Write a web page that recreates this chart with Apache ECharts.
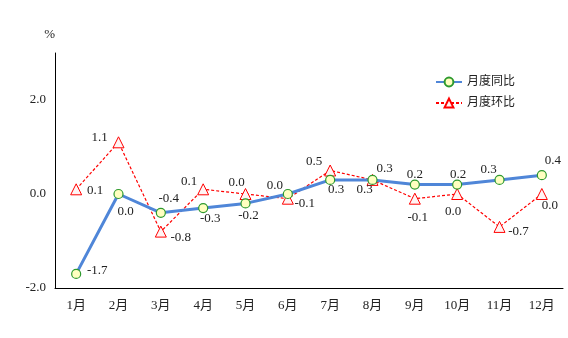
<!DOCTYPE html>
<html><head><meta charset="utf-8">
<script src="https://cdn.jsdelivr.net/npm/echarts@6/dist/echarts.min.js"></script>
<style>html,body{margin:0;padding:0;background:#fff}#c{width:568px;height:338px}</style>
</head><body><div id="c"></div>
<script>
const months = ['1月','2月','3月','4月','5月','6月','7月','8月','9月','10月','11月','12月'];
const yoy = [-1.7, 0.0, -0.4, -0.3, -0.2, 0.0, 0.3, 0.3, 0.2, 0.2, 0.3, 0.4];
const mom = [0.1, 1.1, -0.8, 0.1, 0.0, -0.1, 0.5, 0.3, -0.1, 0.0, -0.7, 0.0];
const seriesNames = ['月度同比', '月度环比'];
const yTickLabels = [-2, 0, 2];

// label offsets (pixels, relative to point)
const yoyOff = [[21,-3],[7,18],[8,-14],[7,10],[3,12],[-13,-8],[6,10],[-8,10],[0,-10],[1,-10],[-11,-10],[11,-15]];
const momOff = [[19,1],[-19,-5],[20,6],[-14,-8],[-9,-11],[17,5],[-16,-9],[12,-11],[3,19],[-4,18],[19,5],[8,12]];

const font = '"Liberation Serif","Noto Sans CJK SC",serif';
function mk(vals, offs) {
  return vals.map((v, i) => ({
    value: v,
    label: { show: true, position: 'inside', offset: offs[i], formatter: () => v.toFixed(1) }
  }));
}
const chart = echarts.init(document.getElementById('c'), null, {renderer: 'canvas'});
chart.setOption({
  animation: false,
  grid: { left: 55, right: 5, top: 53, bottom: 50 },
  legend: {
    orient: 'vertical', left: 430, top: 71, itemWidth: 26, itemHeight: 11, itemGap: 9,
    textStyle: { fontFamily: font, fontSize: 12, color: '#222' },
    data: seriesNames
  },
  xAxis: {
    type: 'category', data: months, boundaryGap: true,
    axisLine: { onZero: false, lineStyle: { color: '#000', width: 1 } },
    axisTick: { inside: true, length: 5, lineStyle: { color: '#000' } },
    axisLabel: { fontFamily: font, fontSize: 13, color: '#222', margin: 11 }
  },
  yAxis: {
    type: 'value', min: -2, max: 3, interval: 1,
    name: '%', nameLocation: 'end', nameGap: 12,
    nameTextStyle: { fontFamily: font, fontSize: 13, color: '#222', align: 'right' },
    axisLine: { show: true, lineStyle: { color: '#000', width: 1 } },
    axisTick: { show: false },
    splitLine: { show: false },
    axisLabel: {
      fontFamily: font, fontSize: 13, color: '#222', margin: 9,
      formatter: v => yTickLabels.includes(v) ? v.toFixed(1) : ''
    }
  },
  series: [
    {
      name: seriesNames[0], type: 'line', data: mk(yoy, yoyOff), z: 3,
      symbol: 'circle', symbolSize: 9,
      lineStyle: { color: '#4f86d8', width: 3 },
      itemStyle: { color: '#ffffc0', borderColor: '#2e9a2e', borderWidth: 1.2 },
      label: { fontFamily: font, fontSize: 13, color: '#222' }
    },
    {
      name: seriesNames[1], type: 'line', data: mk(mom, momOff), z: 2,
      symbol: 'triangle', symbolSize: 11,
      lineStyle: { color: '#ff0000', width: 1.2, type: [3, 2] },
      itemStyle: { color: '#fff4f4', borderColor: '#ff0000', borderWidth: 1 },
      label: { fontFamily: font, fontSize: 13, color: '#222' }
    }
  ]
});
</script></body></html>
